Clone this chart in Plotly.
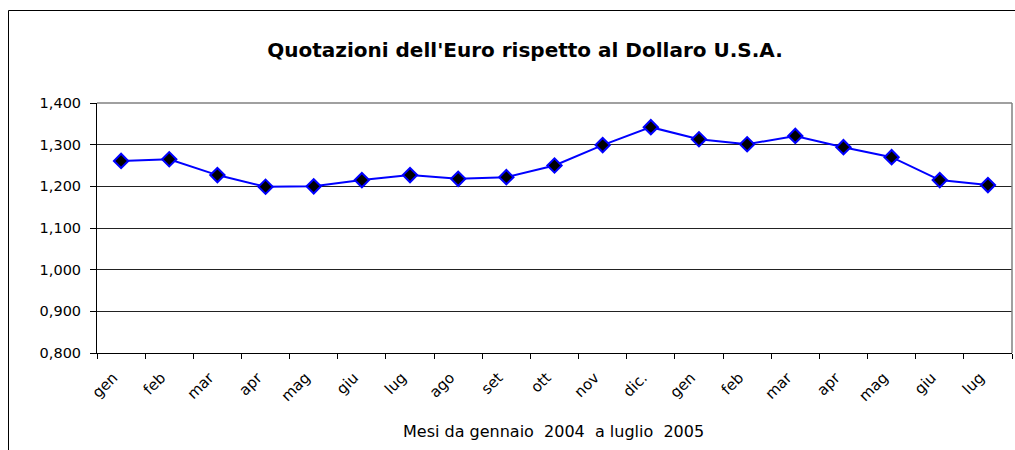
import plotly.graph_objects as go

months = ["gen", "feb", "mar", "apr", "mag", "giu", "lug", "ago", "set", "ott",
          "nov", "dic.", "gen", "feb", "mar", "apr", "mag", "giu", "lug"]
rates = [1.261, 1.265, 1.227, 1.199, 1.200, 1.215, 1.227, 1.218, 1.222, 1.250,
         1.299, 1.342, 1.313, 1.301, 1.321, 1.294, 1.270, 1.215, 1.203]
y_ticks = [0.8, 0.9, 1.0, 1.1, 1.2, 1.3, 1.4]

title_text = "Quotazioni dell'Euro rispetto al Dollaro U.S.A."
x_title = "Mesi da gennaio\u00a0\u00a02004\u00a0\u00a0a luglio\u00a0\u00a02005"

# unique category keys so repeated month names stay separate
keys = list(range(len(months)))

FONT = "DejaVu Sans"
W, H = 1015, 450
L, R, T, B = 97, 1012, 103, 353

fig = go.Figure()
fig.add_trace(go.Scatter(
    x=keys, y=rates, mode="lines+markers",
    line=dict(color="#0000FF", width=2),
    marker=dict(symbol="diamond", size=11, color="#000000",
                line=dict(color="#0000FF", width=2)),
    showlegend=False, hoverinfo="y",
))

def px_x(px):
    return (px - L) / (R - L)

def px_y(py):
    return (B - py) / (B - T)

fig.update_layout(
    width=W, height=H, autosize=False,
    margin=dict(l=L, r=W - R, t=T, b=H - B, pad=0),
    paper_bgcolor="white", plot_bgcolor="white",
    separators=",.",
    font=dict(family=FONT, size=15, color="#000000"),
    title=dict(text="<b>" + title_text + "</b>", x=525 / W, xref="container",
               y=1 - 50 / H, yref="container", xanchor="center", yanchor="middle",
               font=dict(family=FONT, size=20, color="#000000")),
    xaxis=dict(
        type="category",
        tickmode="array", tickvals=keys, ticktext=months,
        tickangle=-45, tickson="boundaries",
        ticks="outside", ticklen=5, tickcolor="#000000",
        ticklabelstandoff=9, ticklabelshift=-8,
        showline=True, linecolor="#000000", linewidth=1,
        showgrid=False, zeroline=False,
        range=[-0.5, len(months) - 0.5],
        tickfont=dict(family=FONT, size=15),
    ),
    yaxis=dict(
        range=[0.8, 1.4], tickmode="array", tickvals=y_ticks,
        tickformat=".3f",
        ticks="outside", ticklen=6, tickcolor="#000000",
        ticklabelstandoff=6,
        showline=True, linecolor="#000000", linewidth=1,
        showgrid=True, gridcolor="#222222", gridwidth=1,
        zeroline=False,
        tickfont=dict(family=FONT, size=14.5),
    ),
    shapes=[
        # outer chart frame (extends past right and bottom edges)
        dict(type="rect", xref="paper", yref="paper",
             x0=px_x(8.5), x1=px_x(1030), y0=px_y(470), y1=px_y(10.5),
             line=dict(color="#000000", width=1), layer="below"),
        # gray plot-area border top and right
        dict(type="line", xref="paper", yref="paper", x0=0, x1=1, y0=1, y1=1,
             line=dict(color="#808080", width=1.5), layer="above"),
        dict(type="line", xref="paper", yref="paper", x0=1, x1=1, y0=0, y1=1,
             line=dict(color="#808080", width=1.5), layer="above"),
    ],
    annotations=[
        dict(text=x_title, xref="paper", yref="paper",
             x=px_x(553), y=px_y(431), xanchor="center", yanchor="middle",
             showarrow=False, font=dict(family=FONT, size=16, color="#000000")),
    ],
)

fig.write_html(
    "out.html",
    config={"responsive": False, "displayModeBar": False},
    post_script="document.body.style.margin='0';document.body.style.padding='0';"
                "document.body.style.overflow='hidden';",
)
